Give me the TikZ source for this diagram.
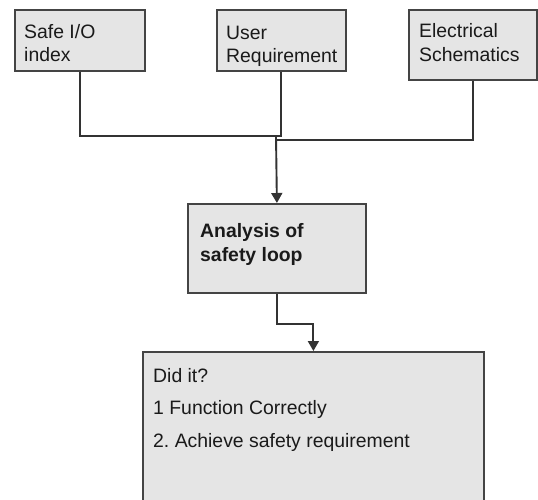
\documentclass[tikz,border=0pt]{standalone}
\usepackage{fontspec}
\setmainfont{Liberation Sans}
\usetikzlibrary{arrows.meta}
\definecolor{boxfill}{HTML}{E5E5E5}
\definecolor{boxline}{HTML}{444444}
\definecolor{connline}{HTML}{333333}
\definecolor{textcol}{HTML}{1A1A1A}
\begin{document}
\begin{tikzpicture}[x=1pt,y=-1pt,
  box/.style={draw=boxline, fill=boxfill, line width=1.8pt, anchor=north west, inner sep=0pt},
  conn/.style={draw=connline, line width=1.9pt},
  tip/.style={-{Triangle[width=11pt,length=10pt]}},
  lbl/.style={anchor=base west, inner sep=0pt, font=\fontsize{19.4}{23}\selectfont, text=textcol}]
\useasboundingbox (0,0) rectangle (538,500);
\clip (0,0) rectangle (538,500);
% boxes
\node[box, minimum width=130pt, minimum height=61pt] (b1) at (14,9) {};
\node[box, minimum width=129pt, minimum height=61pt] (b2) at (216,9) {};
\node[box, minimum width=128pt, minimum height=70pt] (b3) at (408,9) {};
\node[box, minimum width=178pt, minimum height=89pt] (b4) at (187,203) {};
\node[box, minimum width=341pt, minimum height=170pt] (b5) at (142,351) {};
% labels
\node[lbl] (t1a) at (24,39) {Safe I/O};
\node[lbl] (t1b) at (24,62) {index};
\node[lbl] (t2a) at (226,40) {User};
\node[lbl] (t2b) at (226,63) {Requirement};
\node[lbl] (t3a) at (419,38) {Electrical};
\node[lbl] (t3b) at (419,62) {Schematics};
\node[lbl, font=\fontsize{19.4}{23}\selectfont\bfseries] (t4a) at (200,237) {Analysis of};
\node[lbl, font=\fontsize{19.4}{23}\selectfont\bfseries] (t4b) at (200,261) {safety loop};
\node[lbl] (t5a) at (153,382) {Did it?};
\node[lbl] (t5b) at (153,414) {1 Function Correctly};
\node[lbl] (t5c) at (153,447) {2.\ Achieve safety requirement};
% connectors
\coordinate (j1) at (276,136);
\coordinate (j2) at (276,140);
\draw[conn] (b1.south) |- (b2.south |- j1) -- (b2.south);
\draw[conn] (b3.south) |- (j2);
\draw[conn, tip] (j1) -- (b4.north);
\draw[conn, tip] (b4.south) -- ++(0,30) -| (b5.north);
\end{tikzpicture}
\end{document}
